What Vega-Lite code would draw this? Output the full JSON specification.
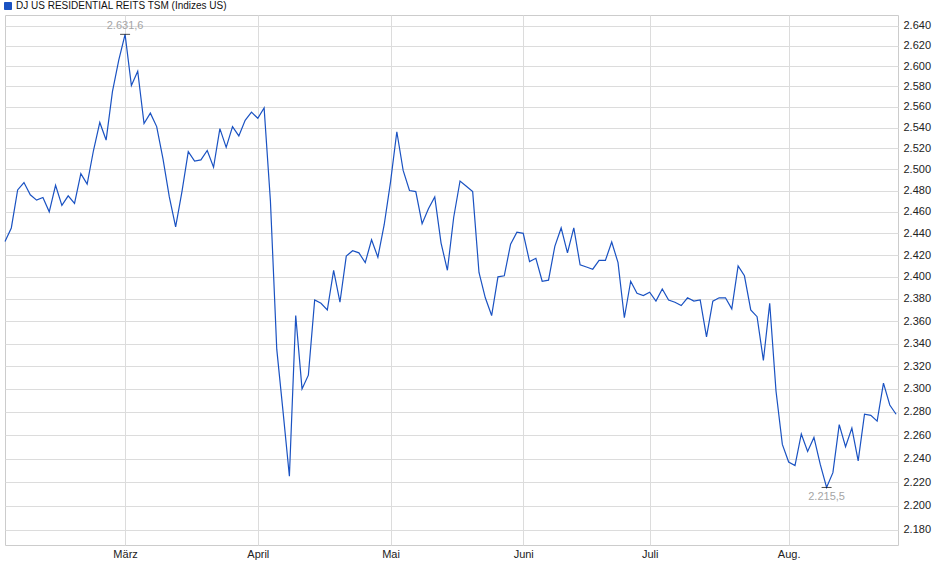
{
  "$schema": "https://vega.github.io/schema/vega-lite/v6.json",
  "description": "DJ US Residential REITS TSM, daily closes Feb-Aug, log scale",
  "width": 893,
  "height": 530,
  "autosize": {"type": "none"},
  "padding": {"left": 5, "top": 15, "right": 42, "bottom": 34},
  "config": {
    "font": "Liberation Sans",
    "locale": {"number": {"decimal": ",", "thousands": ".", "grouping": [3], "currency": ["", " €"]}},
    "view": {"stroke": "#cccccc"},
    "axis": {"gridColor": "#dcdcdc", "labelFontSize": 11, "labelColor": "#222222", "domain": false, "ticks": false, "title": null}
  },
  "data": {
    "values": [
      {"i": 1, "v": 2432.4}, {"i": 2, "v": 2445}, {"i": 3, "v": 2480.6}, {"i": 4, "v": 2487.5},
      {"i": 5, "v": 2476}, {"i": 6, "v": 2471}, {"i": 7, "v": 2473.5}, {"i": 8, "v": 2460},
      {"i": 9, "v": 2485}, {"i": 10, "v": 2466}, {"i": 11, "v": 2475}, {"i": 12, "v": 2468},
      {"i": 13, "v": 2496}, {"i": 14, "v": 2486}, {"i": 15, "v": 2518}, {"i": 16, "v": 2545},
      {"i": 17, "v": 2528}, {"i": 18, "v": 2575}, {"i": 19, "v": 2606}, {"i": 20, "v": 2631.6},
      {"i": 21, "v": 2581}, {"i": 22, "v": 2595}, {"i": 23, "v": 2544}, {"i": 24, "v": 2554},
      {"i": 25, "v": 2541}, {"i": 26, "v": 2510}, {"i": 27, "v": 2474}, {"i": 28, "v": 2446},
      {"i": 29, "v": 2479}, {"i": 30, "v": 2517}, {"i": 31, "v": 2508}, {"i": 32, "v": 2509},
      {"i": 33, "v": 2518}, {"i": 34, "v": 2502}, {"i": 35, "v": 2539}, {"i": 36, "v": 2521},
      {"i": 37, "v": 2541}, {"i": 38, "v": 2532}, {"i": 39, "v": 2547}, {"i": 40, "v": 2555},
      {"i": 41, "v": 2549}, {"i": 42, "v": 2559}, {"i": 43, "v": 2470}, {"i": 44, "v": 2335},
      {"i": 45, "v": 2280}, {"i": 46, "v": 2225}, {"i": 47, "v": 2365}, {"i": 48, "v": 2300},
      {"i": 49, "v": 2312}, {"i": 50, "v": 2379}, {"i": 51, "v": 2376}, {"i": 52, "v": 2370},
      {"i": 53, "v": 2406}, {"i": 54, "v": 2377}, {"i": 55, "v": 2419}, {"i": 56, "v": 2424},
      {"i": 57, "v": 2422}, {"i": 58, "v": 2413}, {"i": 59, "v": 2434}, {"i": 60, "v": 2418},
      {"i": 61, "v": 2448}, {"i": 62, "v": 2488}, {"i": 63, "v": 2536}, {"i": 64, "v": 2499},
      {"i": 65, "v": 2480}, {"i": 66, "v": 2479}, {"i": 67, "v": 2449}, {"i": 68, "v": 2463},
      {"i": 69, "v": 2474}, {"i": 70, "v": 2431}, {"i": 71, "v": 2406}, {"i": 72, "v": 2455},
      {"i": 73, "v": 2489}, {"i": 74, "v": 2484}, {"i": 75, "v": 2479}, {"i": 76, "v": 2404},
      {"i": 77, "v": 2381}, {"i": 78, "v": 2365}, {"i": 79, "v": 2400}, {"i": 80, "v": 2401},
      {"i": 81, "v": 2430}, {"i": 82, "v": 2441}, {"i": 83, "v": 2440}, {"i": 84, "v": 2414},
      {"i": 85, "v": 2417}, {"i": 86, "v": 2396}, {"i": 87, "v": 2397}, {"i": 88, "v": 2428},
      {"i": 89, "v": 2445}, {"i": 90, "v": 2422}, {"i": 91, "v": 2445}, {"i": 92, "v": 2411},
      {"i": 93, "v": 2409}, {"i": 94, "v": 2407}, {"i": 95, "v": 2415}, {"i": 96, "v": 2415},
      {"i": 97, "v": 2432}, {"i": 98, "v": 2413}, {"i": 99, "v": 2363}, {"i": 100, "v": 2396},
      {"i": 101, "v": 2385}, {"i": 102, "v": 2383}, {"i": 103, "v": 2386}, {"i": 104, "v": 2378},
      {"i": 105, "v": 2389}, {"i": 106, "v": 2379}, {"i": 107, "v": 2377}, {"i": 108, "v": 2374},
      {"i": 109, "v": 2381}, {"i": 110, "v": 2378}, {"i": 111, "v": 2379}, {"i": 112, "v": 2346},
      {"i": 113, "v": 2378}, {"i": 114, "v": 2381}, {"i": 115, "v": 2381}, {"i": 116, "v": 2371},
      {"i": 117, "v": 2410}, {"i": 118, "v": 2401}, {"i": 119, "v": 2370}, {"i": 120, "v": 2364},
      {"i": 121, "v": 2325}, {"i": 122, "v": 2376}, {"i": 123, "v": 2298}, {"i": 124, "v": 2252},
      {"i": 125, "v": 2237}, {"i": 126, "v": 2234}, {"i": 127, "v": 2261}, {"i": 128, "v": 2246},
      {"i": 129, "v": 2258}, {"i": 130, "v": 2235}, {"i": 131, "v": 2215.5}, {"i": 132, "v": 2228},
      {"i": 133, "v": 2269}, {"i": 134, "v": 2250}, {"i": 135, "v": 2266}, {"i": 136, "v": 2238},
      {"i": 137, "v": 2278}, {"i": 138, "v": 2277}, {"i": 139, "v": 2272}, {"i": 140, "v": 2305},
      {"i": 141, "v": 2286}, {"i": 142, "v": 2278}
    ]
  },
  "encoding": {
    "x": {
      "field": "i",
      "type": "quantitative",
      "scale": {"domain": [1, 142.3], "nice": false, "zero": false},
      "axis": {
        "values": [20, 41, 62, 83, 103, 125],
        "labelExpr": "datum.value == 20 ? 'März' : datum.value == 41 ? 'April' : datum.value == 62 ? 'Mai' : datum.value == 83 ? 'Juni' : datum.value == 103 ? 'Juli' : 'Aug.'",
        "grid": true,
        "labelPadding": 3
      }
    },
    "y": {
      "field": "v",
      "type": "quantitative",
      "scale": {"type": "log", "domain": [2167.6, 2651], "nice": false, "zero": false},
      "axis": {
        "orient": "right",
        "values": [2180, 2200, 2220, 2240, 2260, 2280, 2300, 2320, 2340, 2360, 2380, 2400, 2420, 2440, 2460, 2480, 2500, 2520, 2540, 2560, 2580, 2600, 2620, 2640],
        "format": ",d",
        "grid": true,
        "labelPadding": 5
      }
    }
  },
  "layer": [
    {
      "mark": {"type": "line", "color": "#1a52c2", "strokeWidth": 1.2},
      "encoding": {
        "color": {
          "datum": "DJ US RESIDENTIAL REITS TSM (Indizes US)",
          "scale": {"range": ["#1a52c2"]},
          "legend": {
            "orient": "none",
            "legendX": -2,
            "legendY": -14,
            "title": null,
            "padding": 0,
            "symbolType": "square",
            "symbolSize": 49,
            "symbolFillColor": "#1a52c2",
            "symbolStrokeColor": "#0b3580",
            "symbolStrokeWidth": 1,
            "labelFontSize": 10,
            "labelColor": "#111111",
            "labelOffset": 3,
            "labelLimit": 0
          }
        }
      }
    },
    {
      "transform": [
        {"joinaggregate": [{"op": "max", "field": "v", "as": "vmax"}]},
        {"filter": "datum.v == datum.vmax"}
      ],
      "layer": [
        {"mark": {"type": "tick", "orient": "horizontal", "size": 10, "thickness": 1, "color": "#000000"}},
        {
          "mark": {"type": "text", "baseline": "bottom", "dy": -3, "fontSize": 11, "color": "#a5a5a5"},
          "encoding": {"text": {"field": "v", "type": "quantitative", "format": ",.1f"}}
        }
      ]
    },
    {
      "transform": [
        {"joinaggregate": [{"op": "min", "field": "v", "as": "vmin"}]},
        {"filter": "datum.v == datum.vmin"}
      ],
      "layer": [
        {"mark": {"type": "tick", "orient": "horizontal", "size": 10, "thickness": 1, "color": "#000000"}},
        {
          "mark": {"type": "text", "baseline": "top", "dy": 4, "fontSize": 11, "color": "#a5a5a5"},
          "encoding": {"text": {"field": "v", "type": "quantitative", "format": ",.1f"}}
        }
      ]
    }
  ]
}
